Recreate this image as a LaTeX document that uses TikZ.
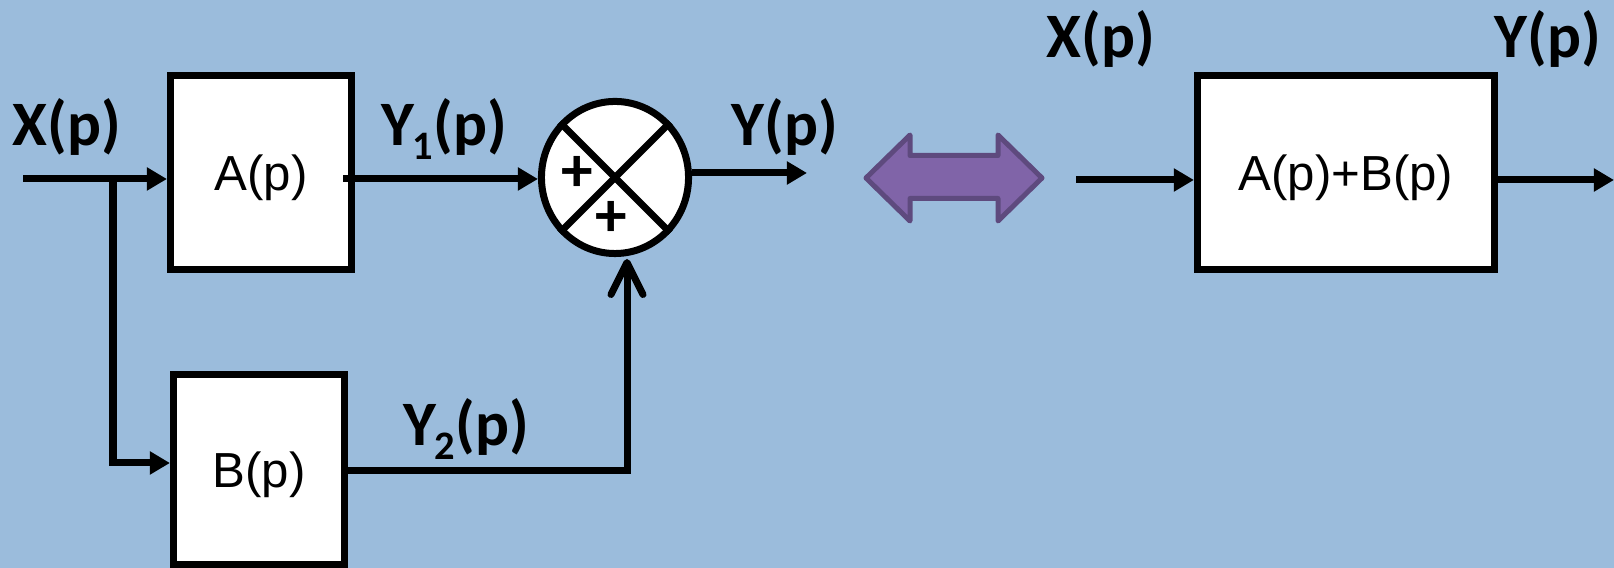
\documentclass[tikz,border=0pt]{standalone}
\usepackage{fontspec}
\newfontfamily\carlito{Carlito}
\newfontfamily\arialf{Liberation Sans}
\usetikzlibrary{arrows.meta,shapes.geometric}
\definecolor{bgblue}{HTML}{9BBCDC}
\definecolor{purplefill}{HTML}{8064A8}
\definecolor{purpleline}{HTML}{5E4A7E}
\newcommand{\lowsub}[1]{\kern-0.3pt\raisebox{-4pt}{\carlito\bfseries\fontsize{11.5}{13}\selectfont #1}}
\tikzset{
  blk/.style={draw=black, fill=white, line width=0.7mm, inner sep=0pt,
    text height=0.42cm, text depth=0.06cm,
    font=\arialf\fontsize{14}{16}\selectfont},
  lbl/.style={inner sep=0pt, font=\carlito\bfseries\fontsize{18}{21}\selectfont},
  wire/.style={line width=0.7mm},
  arr/.style={wire, -{Triangle[length=2mm,width=2.2mm]}},
  barb/.style={wire, line join=miter, -{Straight Barb[length=3.2mm,width=3.2mm,round]}},
  dblarrow/.style={fill=purplefill, draw=purpleline, line width=0.5mm, line join=round}
}
\begin{document}
\begin{tikzpicture}[x=0.01cm, y=-0.01cm]
\useasboundingbox (0,0) rectangle (1614,568);
\fill[bgblue] (0,0) rectangle (1614,568);

% blocks
\node[blk, minimum width=1.81cm, minimum height=1.94cm] (A) at (261,172.5) {A(p)};
\node[blk, minimum width=1.71cm, minimum height=1.90cm] (B) at (259,469.5) {B(p)};
\node[blk, minimum width=2.97cm, minimum height=1.94cm] (AB) at (1346,172.5) {A(p)+B(p)};

% summing junction
\node[draw=black, fill=white, ellipse, line width=0.7mm, inner sep=0pt,
      minimum width=1.47cm, minimum height=1.52cm] (S) at (615,177.5) {};
\draw[wire] (S.135) -- (S.-45);
\draw[wire] (S.45) -- (S.-135);
\node[lbl] (p1) at (577,174) {+};
\node[lbl] (p2) at (611,219) {+};

% labels
\node[lbl] (lx) at (67,127) {X(p)};
\node[lbl] (ly1) at (444,129) {Y\lowsub{1}(p)};
\node[lbl] (ly) at (785,127) {Y(p)};
\node[lbl] (ly2) at (466,429) {Y\lowsub{2}(p)};
\node[lbl] (lx2) at (1101,39) {X(p)};
\node[lbl] (ly3) at (1548,39) {Y(p)};

% connectors, left diagram
\coordinate (xin) at (23,179);
\coordinate (br) at (113,179);
\coordinate (bc) at (113,463);
\draw[arr] (xin) -- (xin -| A.west);
\draw[arr] (br) -- (bc) -- (bc -| B.west);
\coordinate (y1s) at (343,179);
\draw[arr] (y1s) -- (y1s -| S.west);
\coordinate (yo) at (807,173);
\draw[arr] (S.east |- yo) -- (yo);
\coordinate (b2) at (627,471);
\coordinate (sin) at (627,259);
\draw[barb] (b2 -| B.east) -- (b2) -- (sin);

% equivalence arrow
\draw[dblarrow] (866,178) -- (910,135) -- (910,155.5) -- (998,155.5) -- (998,135)
  -- (1042,178) -- (998,221) -- (998,198.5) -- (910,198.5) -- (910,221) -- cycle;

% connectors, right diagram
\coordinate (xin2) at (1076,180);
\draw[arr] (xin2) -- (xin2 -| AB.west);
\coordinate (ab2) at (1491,180);
\coordinate (yo2) at (1614,180);
\draw[arr] (ab2) -- (yo2);
\end{tikzpicture}
\end{document}
